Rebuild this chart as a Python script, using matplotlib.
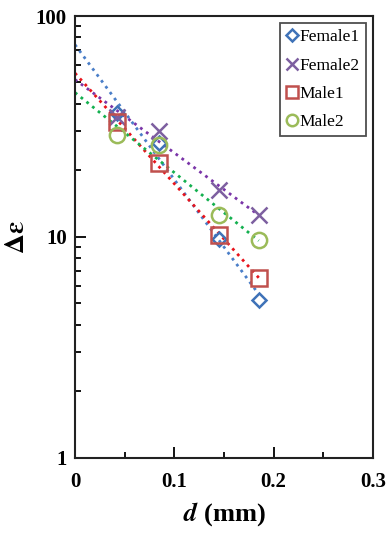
import numpy as np
import matplotlib.pyplot as plt
from matplotlib.ticker import FixedLocator, NullFormatter

# --- datos ---
d_mm = [0.042, 0.085, 0.145, 0.185]
female1 = [36.4, 26.5, 9.8, 5.17]
female2 = [35.0, 30.1, 16.3, 12.5]
male1 = [33.2, 21.5, 10.2, 6.52]
male2 = [28.9, 26.0, 12.5, 9.63]

series = [
    ("Female1", female1, "D", "#3F72B8", "#4A7EC8"),
    ("Female2", female2, "x", "#7D5FA0", "#7A35A8"),
    ("Male1", male1, "s", "#C0504D", "#E8131B"),
    ("Male2", male2, "o", "#9BBB59", "#14B050"),
]

plt.rcParams['font.family'] = ['Liberation Serif', 'DejaVu Serif']
plt.rcParams['mathtext.fontset'] = 'stix'

fig = plt.figure(figsize=(3.9, 5.33), dpi=100)
ax = fig.add_axes([75 / 390, 1 - 457.7 / 533, 298 / 390, 441.7 / 533])

x = np.array(d_mm)
for name, vals, mk, mcol, lcol in series:
    # ajuste exponencial (linea de tendencia)
    b, a = np.polyfit(x, np.log(vals), 1)
    xf = np.linspace(0, x[-1], 50)
    ax.plot(xf, np.exp(a + b * xf), ':', color=lcol, lw=2.0, zorder=2)
    if mk == "x":
        ax.plot(x, vals, mk, color=mcol, ms=11, mew=1.8, label=name, zorder=3)
    else:
        ax.plot(x, vals, mk, mfc='none', mec=mcol, ms=11 if mk != "D" else 7.5,
                mew=1.8, label=name, linestyle='none', zorder=3)

ax.set_yscale('log')
ax.set_xlim(0, 0.3)
ax.set_ylim(1, 100)
ax.set_xticks([0, 0.1, 0.2, 0.3])
ax.set_xticklabels(["0", "0.1", "0.2", "0.3"])
ax.xaxis.set_minor_locator(FixedLocator([0.05, 0.15, 0.25]))
ax.set_yticks([1, 10, 100])
ax.set_yticklabels(["1", "10", "100"])
ax.yaxis.set_minor_formatter(NullFormatter())

ax.tick_params(which='both', direction='in', right=False, top=False,
               labelsize=15, width=1.3)
ax.tick_params(which='major', length=8, pad=6)
ax.tick_params(axis='x', which='major', pad=10)
ax.tick_params(which='minor', length=4.5)
for lab in ax.get_xticklabels() + ax.get_yticklabels():
    lab.set_fontweight('bold')
for s in ax.spines.values():
    s.set_linewidth(1.5)
    s.set_color('#222222')

ax.set_xlabel(r"$\boldsymbol{d}$ (mm)", fontsize=19, fontweight='bold', labelpad=6)
ax.set_ylabel(r"$\mathbf{\Delta}\boldsymbol{\varepsilon}$", fontsize=20, labelpad=4)

leg = ax.legend(loc='upper right', fontsize=12.5, handlelength=0.6,
                handletextpad=0.15, borderpad=0.35, labelspacing=0.7,
                markerscale=0.75, borderaxespad=0,
                frameon=True, fancybox=False, edgecolor='#222222',
                bbox_to_anchor=(0.975, 0.984))
leg.get_frame().set_linewidth(1.3)

fig.savefig("out.png", dpi=100)
